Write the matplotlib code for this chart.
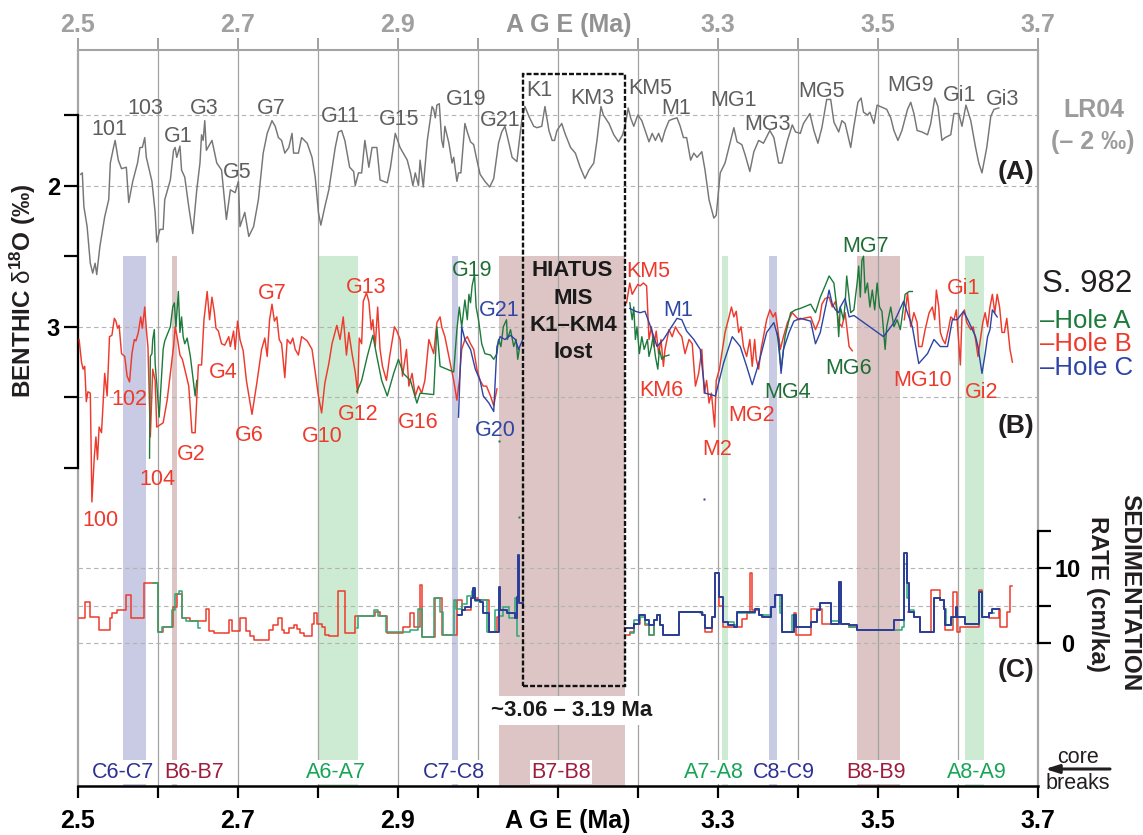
import numpy as np
import matplotlib
matplotlib.use("Agg")
import matplotlib.pyplot as plt
from matplotlib.patches import Rectangle

plt.rcParams['font.family'] = ['Liberation Sans', 'DejaVu Sans']
plt.rcParams['mathtext.fontset'] = 'custom'
plt.rcParams['mathtext.rm'] = 'Liberation Sans'
plt.rcParams['mathtext.bf'] = 'Liberation Sans:bold'
plt.rcParams['mathtext.it'] = 'Liberation Sans:italic'

NAN = float('nan')

# ------------------------------------------------------------------ data
# (A) LR04 stack (plotted minus 2 permil), age in Ma
lr04_age = [2.504, 2.506, 2.508, 2.512, 2.516, 2.519, 2.522, 2.524, 2.528, 2.534,
            2.539, 2.541, 2.545, 2.547, 2.551, 2.555, 2.561, 2.564, 2.569, 2.575,
            2.578, 2.581, 2.584, 2.586, 2.593, 2.597, 2.599, 2.603, 2.607, 2.609,
            2.616, 2.620, 2.622, 2.624, 2.628, 2.630, 2.634, 2.639, 2.644, 2.649,
            2.653, 2.655, 2.657, 2.659, 2.661, 2.668, 2.674, 2.680, 2.686, 2.691,
            2.697, 2.701, 2.703, 2.709, 2.714, 2.720, 2.726, 2.732, 2.737, 2.743,
            2.747, 2.751, 2.755, 2.759, 2.764, 2.768, 2.770, 2.776, 2.780, 2.787,
            2.793, 2.797, 2.801, 2.804, 2.809, 2.814, 2.822, 2.826, 2.830, 2.834,
            2.840, 2.845, 2.847, 2.851, 2.855, 2.859, 2.864, 2.868, 2.874, 2.878,
            2.887, 2.891, 2.897,
            2.903, 2.907, 2.912, 2.916, 2.919, 2.922, 2.926, 2.928, 2.932, 2.937,
            2.943, 2.945, 2.947, 2.949, 2.952, 2.955, 2.957, 2.959, 2.964, 2.968,
            2.970, 2.974, 2.976, 2.979, 2.984, 2.987, 2.991, 2.995, 2.999, 3.003,
            3.009, 3.015, 3.020, 3.026, 3.030, 3.034, 3.039, 3.043, 3.047, 3.049,
            3.051, 3.055, 3.059, 3.064, 3.070, 3.074, 3.080, 3.084, 3.089, 3.093,
            3.096, 3.099, 3.105, 3.109, 3.116, 3.122, 3.128, 3.134, 3.139, 3.145,
            3.149, 3.154, 3.157, 3.164, 3.170, 3.176, 3.181, 3.184, 3.188, 3.191,
            3.195, 3.200, 3.205, 3.214, 3.218, 3.222, 3.226, 3.230, 3.234, 3.239,
            3.243, 3.249, 3.253, 3.257, 3.261, 3.266, 3.270, 3.274, 3.280, 3.284,
            3.289, 3.295, 3.298, 3.303, 3.309, 3.320, 3.324, 3.330, 3.334, 3.340,
            3.345, 3.351, 3.357, 3.365, 3.370, 3.376, 3.380,
            3.387, 3.393, 3.397, 3.403, 3.407, 3.415, 3.420, 3.425, 3.430, 3.436,
            3.441, 3.445, 3.451, 3.455, 3.459, 3.466, 3.470, 3.475, 3.479, 3.482,
            3.487, 3.490, 3.495, 3.499, 3.503, 3.511, 3.516, 3.520, 3.525, 3.530,
            3.537, 3.541, 3.545, 3.549, 3.555, 3.562, 3.566, 3.571, 3.575, 3.580,
            3.584, 3.591, 3.595, 3.601, 3.605, 3.610, 3.616, 3.622, 3.626, 3.630,
            3.636, 3.641, 3.645, 3.651]
lr04_d18o = [1.92, 1.91, 2.15, 2.29, 2.55, 2.62, 2.55, 2.63, 2.43, 2.22,
             2.10, 1.84, 1.73, 1.68, 1.82, 1.88, 1.87, 2.12, 1.97, 1.84,
             1.73, 1.73, 1.66, 1.80, 1.97, 2.19, 2.40, 2.31, 2.31, 2.10,
             1.96, 1.75, 1.73, 1.80, 1.72, 1.89, 1.94, 2.15, 2.34, 2.03,
             1.84, 1.64, 1.68, 1.54, 1.75, 1.68, 1.84, 1.89, 2.24, 2.03,
             2.05, 1.97, 2.29, 2.19, 2.36, 2.29, 2.10, 1.77, 1.63, 1.54,
             1.58, 1.66, 1.68, 1.77, 1.73, 1.63, 1.77, 1.77, 1.66, 1.70,
             1.80, 1.94, 2.19, 2.28, 2.15, 2.03, 1.73, 1.62, 1.61, 1.68,
             1.87, 1.90, 2.00, 1.91, 1.91, 1.68, 1.87, 1.73, 1.73, 1.96,
             1.98, 1.87, 1.63,
             1.73, 1.77, 1.82, 1.91, 2.00, 1.91, 2.00, 1.82, 2.01, 1.68,
             1.44, 1.46, 1.52, 1.43, 1.42, 1.68, 1.73, 1.58, 1.70, 1.84,
             1.80, 1.97, 1.91, 1.91, 1.56, 1.62, 1.69, 1.71, 1.82, 1.92,
             1.97, 2.01, 1.95, 1.70, 1.62, 1.58, 1.70, 1.80, 1.82, 1.83,
             1.73, 1.54, 1.44, 1.51, 1.58, 1.59, 1.58, 1.44, 1.61, 1.68,
             1.68, 1.61, 1.56, 1.63, 1.73, 1.77, 1.87, 1.95, 1.89, 1.84,
             1.68, 1.44, 1.50, 1.56, 1.64, 1.69, 1.64, 1.58, 1.45, 1.52,
             1.58, 1.50, 1.54, 1.69, 1.63, 1.68, 1.63, 1.69, 1.61, 1.54,
             1.53, 1.52, 1.58, 1.66, 1.66, 1.82, 1.77, 1.80, 1.76, 1.89,
             2.10, 2.23, 2.21, 1.91, 1.84, 1.59, 1.69, 1.71, 1.78, 1.90,
             1.76, 1.68, 1.70, 1.61, 1.66, 1.84, 1.84,
             1.68, 1.57, 1.62, 1.63, 1.56, 1.49, 1.61, 1.70, 1.59, 1.39,
             1.39, 1.55, 1.62, 1.54, 1.56, 1.73, 1.58, 1.41, 1.38, 1.48,
             1.50, 1.48, 1.56, 1.43, 1.44, 1.46, 1.52, 1.61, 1.68, 1.61,
             1.46, 1.41, 1.49, 1.61, 1.62, 1.64, 1.56, 1.38, 1.44, 1.68,
             1.66, 1.64, 1.49, 1.49, 1.58, 1.43, 1.54, 1.73, 1.84, 1.91,
             1.73, 1.51, 1.46, 1.45]

# (B) Site 982 benthic d18O, Hole B (NaN = gap)
holeB_age = [2.502, 2.505, 2.507, 2.509, 2.511, 2.513, 2.516, 2.518, 2.521, 2.523,
             2.525, 2.527, 2.530, 2.534, 2.537, 2.540, 2.543, 2.546, 2.548, 2.550,
             2.552, 2.555, 2.559, 2.562, 2.565, 2.568, 2.571, 2.573, 2.576, 2.579,
             2.581, 2.584, 2.586, 2.588, 2.591, 2.594, 2.597, 2.599, 2.607, 2.612,
             2.616, 2.620, 2.622, 2.625, 2.628, 2.631, 2.634, 2.639, 2.643, 2.647,
             2.651, 2.655, 2.658, 2.662, 2.665, 2.668, 2.671, 2.673, 2.676, 2.680,
             2.684, 2.689, 2.691, 2.695, 2.697, 2.700, 2.703, 2.707, 2.711, 2.718,
             2.724, 2.730, 2.734, 2.737, 2.740, 2.743, 2.746, 2.749, 2.752, 2.755,
             2.759, 2.762, 2.766, 2.769, 2.772, 2.776, 2.780, 2.787, 2.793, 2.797,
             2.801, 2.805, 2.809, 2.814, 2.818, 2.824, 2.828, 2.832, 2.836, 2.839,
             2.843, 2.847, 2.850, 2.852, 2.855, 2.857, 2.861, 2.864, 2.867, 2.869,
             2.872, 2.875, 2.878, 2.881, 2.886, 2.890, 2.896, 2.899, 2.903, 2.906,
             2.911, 2.914, 2.918, 2.922, 2.926, 2.930, 2.934, 2.939, 2.945, 2.949,
             2.953, 2.955, 2.959, 2.964, 2.970, 2.974, 2.977, 2.980, 2.984, 2.987,
             2.991, 2.995, 2.999, 3.003, 3.007, 3.011, 3.016, 3.020, 3.024,
             NAN,
             3.186, 3.190, 3.193, 3.197, 3.200, 3.203, 3.207, 3.211, 3.214, 3.217,
             3.220, 3.223, 3.226, 3.229, 3.232, 3.234, 3.239, 3.243, 3.247, 3.251,
             3.255, 3.259, 3.264, 3.268, 3.272, 3.276, 3.280, 3.283, 3.286, 3.289,
             3.292, 3.294, 3.296, 3.298, 3.302, 3.305, 3.309, 3.314, 3.317, 3.320,
             3.323, 3.326, 3.329, 3.332, 3.336, 3.340, 3.343, 3.346, 3.348, 3.351,
             3.354, 3.357, 3.361, 3.365, 3.369, 3.372, 3.375, 3.378, 3.382, 3.387,
             3.393, 3.401, 3.407, 3.416, 3.422, 3.427, 3.430, 3.434, 3.439, 3.443,
             3.447, 3.451, 3.455, 3.459, 3.464, 3.468,
             NAN,
             3.533, 3.537, 3.541, 3.545, 3.549, 3.551, 3.555, 3.559, 3.564, 3.568,
             3.571, 3.573, 3.576, 3.578, 3.581, 3.584, 3.588, 3.591, 3.595, 3.598,
             3.601, 3.603, 3.605, 3.608, 3.611, 3.616, 3.619, 3.622, 3.625, 3.628,
             3.631, 3.634, 3.637, 3.640, 3.643, 3.646, 3.649, 3.652, 3.655, 3.658,
             3.661, 3.665, 3.668]
holeB_d18o = [3.09, 3.25, 3.30, 3.28, 3.53, 3.46, 3.47, 4.24, 3.92, 3.78,
              3.94, 3.71, 3.75, 3.33, 3.49, 3.07, 3.06, 2.94, 2.96, 3.01,
              2.99, 3.19, 3.21, 3.35, 3.39, 3.19, 3.09, 3.10, 3.04, 2.93,
              3.01, 2.86, 3.02, 3.14, 3.78, 3.30, 3.38, 3.71, 3.68, 3.52,
              3.33, 3.14, 3.00, 3.09, 3.20, 3.23, 3.30, 3.42, 3.75, 3.75,
              3.27, 3.27, 2.95, 2.75, 2.95, 2.79, 2.90, 3.01, 3.03, 3.12,
              3.13, 3.07, 3.14, 3.03, 3.16, 2.96, 3.09, 3.17, 3.38, 3.62,
              3.40, 3.16, 3.08, 3.21, 2.95, 2.84, 2.96, 2.93, 3.09, 3.12,
              3.36, 3.09, 3.12, 3.08, 3.16, 3.20, 3.07, 3.10, 3.16, 3.32,
              3.49, 3.61, 3.40, 3.26, 3.12, 2.99, 3.09, 2.93, 3.20, 3.04,
              3.19, 3.32, 3.47, 3.08, 3.12, 2.82, 2.76, 2.82, 3.02, 2.95,
              3.14, 2.86, 3.16, 3.28, 3.38, 3.21, 3.00, 3.03, 3.09, 3.35,
              3.16, 3.42, 3.33, 3.49, 3.42, 3.47, 3.38, 3.09, 3.19, 2.97,
              2.93, 3.00, 3.07, 3.21, 3.38, 3.52, 3.38, 3.16, 3.09, 3.07,
              3.12, 3.16, 3.30, 3.38, 3.42, 3.42, 3.49, 3.56, 3.44,
              NAN,
              2.83, 2.69, 2.77, 2.73, 2.70, 2.71, 2.69, 2.71, 3.09, 3.00,
              3.14, 3.03, 3.19, 3.09, 3.28, 3.16, 3.02, 3.07, 3.00, 3.04,
              3.07, 3.19, 3.09, 3.12, 3.42, 3.33, 3.16, 3.47, 3.38, 3.54,
              3.47, 3.59, 3.71, 3.38, 3.30, 3.19, 3.04, 2.93, 2.86, 2.93,
              2.89, 3.04, 3.00, 3.14, 3.21, 3.09, 3.28, 3.09, 3.23, 3.30,
              3.16, 3.07, 2.95, 2.88, 2.93, 2.90, 3.02, 3.16, 3.07, 2.97,
              2.90, 2.95, 2.94, 2.93, 3.02, 2.95, 2.84, 2.80, 2.79, 2.86,
              2.82, 2.97, 3.00, 2.90, 3.14, 3.17,
              NAN,
              2.95, 2.76, 3.00, 2.90, 2.97, 3.14, 3.14, 3.02, 2.90, 2.86,
              2.95, 2.74, 2.86, 3.04, 3.09, 3.12, 3.02, 2.93, 2.95, 2.88,
              3.12, 3.27, 2.93, 2.88, 2.97, 3.02, 3.00, 3.09, 3.21, 3.09,
              2.97, 2.90, 3.00, 2.86, 2.77, 2.90, 2.77, 2.86, 3.04, 3.04,
              2.94, 3.16, 3.25]

# Hole A
holeA_age = [2.590, 2.591, 2.593, 2.594, 2.596, 2.597, 2.599, 2.602, 2.607, 2.609,
             2.616, 2.619, 2.621, 2.623, 2.626, 2.628, 2.630, 2.632, 2.634, 2.637,
             2.641, 2.645, 2.647, 2.649,
             NAN,
             2.849, 2.855, 2.862, 2.869, 2.874, 2.880, 2.887, 2.895, 2.901, 2.907,
             2.916, 2.924, 2.928, 2.945, 2.949, 2.953, 2.970, 2.974, 2.977, 2.980,
             2.984, 2.987, 2.989, 2.991, 2.993, 2.996, 2.998, 3.001, 3.005, 3.009,
             3.016, 3.020, 3.024, 3.026, 3.029, 3.032, 3.036, 3.037, 3.041, 3.045,
             3.048, 3.050, 3.052,
             NAN,
             3.190, 3.193, 3.195, 3.197, 3.199, 3.202, 3.205, 3.208, 3.212, 3.214,
             3.217, 3.219, 3.222, 3.225, 3.227, 3.230, 3.233, 3.239,
             NAN,
             3.374, 3.379, 3.384, 3.391, 3.397, 3.403, 3.416, 3.422, 3.428, 3.434,
             3.439, 3.445, 3.449, 3.451, 3.453, 3.457, 3.459, 3.461, 3.466, 3.470,
             3.474, 3.476, 3.478, 3.480, 3.482, 3.484, 3.487, 3.490, 3.493, 3.496,
             3.499, 3.502, 3.505, 3.509, 3.511, 3.516, 3.520, 3.524, 3.528, 3.534,
             3.539, 3.543]
holeA_d18o = [3.93, 3.21, 3.19, 3.09, 3.02, 3.26, 3.40, 3.64, 3.16, 3.10,
              3.00, 2.86, 2.83, 3.00, 2.75, 3.04, 2.93, 3.07, 3.12, 3.08,
              3.21, 3.40, 3.49, 3.38,
              NAN,
              3.46, 3.38, 3.21, 3.06, 3.21, 3.38, 3.49, 3.33, 3.23, 3.33,
              3.38, 3.54, 3.47, 3.48, 3.00, 3.28, 3.32, 3.02, 2.86, 3.00,
              2.81, 2.95, 2.77, 2.83, 2.71, 2.63, 2.86, 2.95, 3.12, 3.19,
              3.20, 3.23, 3.19, 3.09, 3.14, 3.00, 2.95, 3.09, 3.02, 3.14,
              3.09, 3.23, 3.16,
              NAN,
              2.83, 2.95, 2.86, 3.09, 3.00, 3.19, 3.07, 3.16, 3.09, 3.21,
              3.14, 3.07, 3.21, 3.30, 3.16, 3.23, 3.21, 3.20,
              NAN,
              3.04, 3.30, 3.07, 2.90, 2.88, 2.87, 2.84, 2.90, 2.79, 2.71,
              2.64, 2.69, 2.88, 3.07, 2.86, 2.95, 2.84, 2.64, 2.90, 2.88,
              2.69, 2.57, 2.79, 2.53, 2.50, 2.76, 2.69, 2.86, 2.74, 2.88,
              2.69, 2.86, 2.89, 3.16, 3.00, 2.86, 3.00, 2.95, 3.02, 2.77,
              2.75, 2.75]

# Hole C
holeC_age = [2.976, 2.980, 2.984, 2.991, 2.997, 3.003, 3.007, 3.014, 3.020, 3.024,
             3.028, 3.034, 3.041, 3.047, 3.051, 3.057,
             NAN,
             3.190, 3.197, 3.203, 3.209, 3.216, 3.224, 3.232, 3.241, 3.249, 3.255,
             3.261, 3.270, 3.278, 3.284, 3.291, 3.297, 3.307, 3.318, 3.328, 3.336,
             3.343, 3.351, 3.361, 3.370, 3.376, 3.379, 3.382, 3.389, 3.395, 3.403,
             3.416, 3.422, 3.428, 3.432, 3.439, 3.443, 3.447, 3.451, 3.453, 3.459,
             3.464, 3.470, 3.507, 3.520, 3.532, 3.543, 3.551, 3.562, 3.570, 3.578,
             3.587, 3.593, 3.599, 3.607, 3.614, 3.622, 3.625, 3.630, 3.634, 3.637,
             3.640, 3.643, 3.649]
holeC_d18o = [3.64, 3.00, 3.09, 3.16, 3.30, 3.38, 3.49, 3.54, 3.60, 3.14,
              3.07, 3.09, 3.06, 3.09, 3.16, 3.08,
              NAN,
              2.87, 2.89, 2.90, 2.89, 3.00, 3.14, 3.09, 3.01, 2.94, 2.95,
              3.03, 3.09, 3.16, 3.47, 3.48, 3.49, 3.26, 3.07, 3.14, 3.28,
              3.41, 3.26, 3.04, 2.97, 3.09, 3.33, 3.16, 3.04, 2.96, 2.94,
              2.96, 3.12, 3.04, 2.93, 2.74, 2.84, 2.88, 2.90, 2.86, 2.80,
              2.93, 2.92, 3.07, 2.97, 2.82, 3.00, 3.26, 3.19, 3.09, 3.14,
              3.14, 2.95, 2.95, 2.89, 2.97, 3.07, 3.14, 3.33, 3.19, 3.07,
              3.02, 2.88, 2.93]

# isolated single samples
stray_age = [3.027, 3.051, 3.283]
stray_d18o = [3.81, 4.35, 4.22]
stray_hole = ['A', 'A', 'C']

# (C) sedimentation rates (cm/ka), step starts; last entry closes the segment
sedB_age = [[2.502, 2.509, 2.516, 2.527, 2.540, 2.543, 2.549, 2.561, 2.567, 2.583,
             2.601, 2.607, 2.619, 2.624, 2.631, 2.641, 2.661, 2.664, 2.670, 2.689,
             2.693, 2.703, 2.711, 2.715, 2.721, 2.739, 2.744, 2.751, 2.755, 2.758,
             2.764, 2.770, 2.774, 2.778, 2.783, 2.793, 2.795, 2.799, 2.805, 2.809,
             2.814, 2.826, 2.834, 2.847, 2.872, 2.878, 2.887, 2.907, 2.916, 2.920,
             2.928, 2.931, 2.947, 2.955, 2.974, 2.980, 2.991, 3.000, 3.014, 3.024, 3.027],
            [3.186, 3.190, 3.195, 3.203, 3.209, 3.214, 3.220, 3.224, 3.228, 3.232,
             3.251, 3.280, 3.284, 3.293, 3.297, 3.301, 3.307, 3.320, 3.330, 3.337,
             3.340, 3.343, 3.352, 3.357, 3.366, 3.372, 3.380, 3.395, 3.398, 3.416,
             3.430, 3.452, 3.454, 3.464, 3.474],
            [3.537, 3.545, 3.553, 3.566, 3.577, 3.582, 3.584, 3.594, 3.599, 3.603,
             3.626, 3.630, 3.639, 3.651, 3.652, 3.661, 3.665, 3.668]]
sedB_rate = [[3.4, 5.5, 3.5, 1.8, 3.4, 4.0, 4.4, 6.4, 3.4, 8.0,
              1.5, 2.2, 4.8, 6.6, 3.4, 3.0, 4.6, 1.6, 1.4, 3.1,
              1.6, 3.4, 1.6, 1.0, 0.4, 1.7, 2.4, 3.3, 1.7, 1.4,
              2.0, 2.4, 1.9, 1.4, 0.9, 2.5, 4.0, 2.5, 2.2, 1.1,
              0.9, 7.0, 1.3, 3.6, 4.2, 3.6, 1.4, 2.2, 4.0, 2.2,
              7.7, 0.8, 6.0, 1.1, 5.7, 4.4, 6.0, 5.7, 1.5, 3.5, 3.5],
             [1.1, 1.5, 2.6, 3.7, 2.4, 1.1, 3.1, 3.7, 2.4, 1.1,
              4.2, 3.7, 1.5, 3.5, 9.3, 5.0, 2.2, 2.2, 3.2, 4.0,
              9.3, 4.4, 3.7, 3.5, 4.8, 6.4, 1.5, 4.0, 1.1, 4.6,
              2.6, 8.2, 2.6, 2.2, 2.2],
             [4.2, 3.5, 1.5, 7.1, 5.7, 4.6, 1.7, 6.8, 1.5, 2.2,
              7.1, 3.5, 3.3, 4.6, 2.2, 4.2, 7.6, 7.6]]

sedA_age = [[2.594, 2.601, 2.605, 2.618, 2.622, 2.627, 2.630, 2.636, 2.650, 2.653],
            [2.849, 2.851, 2.871, 2.876, 2.886, 2.916, 2.925, 2.931, 2.945, 2.953,
             2.957, 2.970, 2.973, 2.980, 2.986, 2.993, 2.997, 3.003, 3.012, 3.022,
             3.026, 3.032, 3.039, 3.046, 3.049, 3.052],
            [3.190, 3.195, 3.203, 3.209, 3.214, 3.220, 3.224, 3.228, 3.232, 3.251,
             3.278, 3.282],
            [3.313, 3.320, 3.324, 3.347, 3.351, 3.366, 3.372, 3.378, 3.380, 3.393,
             3.398, 3.416, 3.424, 3.428, 3.441, 3.452, 3.454, 3.464, 3.474, 3.511,
             3.530, 3.533, 3.536, 3.539, 3.545, 3.553, 3.570, 3.578, 3.583, 3.585,
             3.592, 3.609, 3.626, 3.630, 3.639, 3.645]]
sedA_rate = [[8.0, 1.5, 2.2, 4.4, 6.6, 7.0, 3.4, 3.0, 2.0, 2.0],
             [2.0, 3.6, 4.4, 3.6, 1.5, 1.8, 4.6, 0.8, 6.0, 4.2,
              1.1, 5.8, 4.6, 5.2, 6.3, 7.0, 5.6, 5.7, 1.5, 4.4,
              3.6, 4.8, 3.3, 6.0, 1.0, 1.0],
             [1.3, 3.1, 3.5, 2.6, 1.1, 3.1, 3.7, 2.4, 1.1, 4.2, 4.0, 4.0],
             [2.8, 2.4, 4.0, 4.6, 3.7, 4.8, 6.4, 4.0, 1.5, 3.7,
              2.2, 2.8, 4.4, 5.3, 3.0, 7.0, 2.6, 2.2, 1.8, 1.8,
              2.2, 10.6, 6.0, 4.4, 3.5, 1.5, 6.0, 5.7, 4.6, 2.4,
              3.5, 2.6, 6.8, 3.5, 4.0, 4.0]]

sedC_age = [[2.976, 2.980, 2.984, 2.991, 2.994, 2.997, 3.003, 3.007, 3.014, 3.026,
             3.028, 3.037, 3.047, 3.049, 3.050, 3.052, 3.057],
            [3.186, 3.195, 3.201, 3.209, 3.214, 3.220, 3.224, 3.228, 3.232, 3.251,
             3.280, 3.284, 3.293, 3.297, 3.301, 3.307, 3.313, 3.320, 3.324, 3.347,
             3.351, 3.355, 3.366, 3.372, 3.380, 3.395, 3.398, 3.416, 3.424, 3.428,
             3.441, 3.452, 3.454, 3.464, 3.474, 3.520, 3.533, 3.536, 3.539, 3.545,
             3.553, 3.570, 3.577, 3.582, 3.584, 3.591, 3.597, 3.599, 3.609, 3.626,
             3.630, 3.639, 3.643, 3.651]]
sedC_rate = [[3.7, 4.4, 4.8, 6.0, 7.3, 5.7, 5.5, 4.0, 1.5, 7.5,
              4.4, 4.0, 3.3, 6.2, 11.7, 5.3, 5.3],
             [2.0, 2.6, 3.7, 3.1, 2.4, 3.1, 3.7, 2.4, 1.1, 4.2,
              3.7, 2.0, 3.5, 9.3, 6.2, 2.8, 2.4, 2.2, 4.2, 4.6,
              3.7, 3.5, 4.8, 6.4, 1.5, 3.7, 2.2, 2.8, 4.4, 5.3,
              2.6, 8.2, 2.6, 2.4, 1.8, 3.1, 12.0, 8.0, 4.2, 3.5,
              1.5, 6.0, 5.7, 4.6, 2.4, 3.5, 4.8, 3.5, 2.6, 6.8,
              3.5, 4.0, 4.6, 4.6]]

# core breaks (age ranges)
break_label = ['C6-C7', 'B6-B7', 'A6-A7', 'C7-C8', 'B7-B8', 'A7-A8', 'C8-C9', 'B8-B9', 'A8-A9']
break_start = [2.557, 2.618, 2.802, 2.968, 3.027, 3.305, 3.364, 3.474, 3.609]
break_end = [2.586, 2.624, 2.850, 2.976, 3.184, 3.313, 3.374, 3.527, 3.633]

hiatus_range = (3.057, 3.184)

# ------------------------------------------------------------------ style
RED = '#ee3a2c'
GREEN_B = '#1c7a3a'
BLUE_B = '#2c44a6'
GREEN_C = '#2aa874'
BLUE_C = '#2b3d98'
GRAY_LINE = '#767676'
LBL_GRAY = '#5e5e5e'
LBL_GREEN = '#1f6e36'
LBL_BLUE = '#2f47a3'
BAND_COL = {'C': '#c9cae3', 'B': '#dcc5c4', 'A': '#cdebd2'}
BAND_TXT = {'C': '#2e3192', 'B': '#9e1d3c', 'A': '#17a457'}
HOLE_COL_B = {'A': GREEN_B, 'B': RED, 'C': BLUE_B}

W, H = 1143, 835
fig = plt.figure(figsize=(W / 100, H / 100), dpi=100)
L, R, T, B = 77.5, 1038.0, 50.0, 786.0
ax = fig.add_axes([L / W, 1 - B / H, (R - L) / W, (B - T) / H])
ax.set_xlim(2.5, 3.7)
PXD = 141.2
ax.set_ylim(1.5 + (B - 115) / PXD, 1.5 - (115 - T) / PXD)
ax.patch.set_alpha(0)

axs = ax.twinx()
PXS = 7.5
axs.set_ylim(-(B - 643) / PXS, (643 - T) / PXS)


def yfrac(py):
    return (B - py) / (B - T)


# vertical grid + frame
for xv in np.arange(2.6, 3.65, 0.1):
    ax.axvline(xv, color='#a2a2a2', lw=0.9, zorder=1.2)
for xv in (2.5, 3.7):
    ax.axvline(xv, color='#a6a6a6', lw=1.6, zorder=1.2, clip_on=False)

# core-break bands
y0, y1 = ax.get_ylim()
band_top = (y0 - 2.5) / (y0 - y1)
for lab, s, e in zip(break_label, break_start, break_end):
    ax.axvspan(s, e, ymin=0, ymax=band_top, color=BAND_COL[lab[0]], lw=0, zorder=0.5)

# dashed horizontal guides
dash = (0, (4, 3))
for v in (1.5, 2.0, 3.0, 3.5):
    ax.axhline(v, color='#b3b3b3', lw=0.8, ls=dash, zorder=1)
for v in (0, 5, 10):
    axs.axhline(v, color='#b3b3b3', lw=0.8, ls=dash, zorder=1)

# (A) LR04
ax.plot(lr04_age, lr04_d18o, color=GRAY_LINE, lw=1.05, zorder=3)
# (B) holes
ax.plot(holeB_age, holeB_d18o, color=RED, lw=1.05, zorder=3)
ax.plot(holeA_age, holeA_d18o, color=GREEN_B, lw=1.0, zorder=3.1)
ax.plot(holeC_age, holeC_d18o, color=BLUE_B, lw=1.0, zorder=3.2)
for a, v, h in zip(stray_age, stray_d18o, stray_hole):
    ax.plot([a], [v], 's', ms=1.6, color=HOLE_COL_B[h], mec='none', zorder=3)

# (C) sedimentation rates
for ages, rates in zip(sedB_age, sedB_rate):
    axs.step(ages, rates, where='post', color=RED, lw=1.1, zorder=3)
for ages, rates in zip(sedA_age, sedA_rate):
    axs.step(ages, rates, where='post', color=GREEN_C, lw=1.1, zorder=3.1)
for ages, rates in zip(sedC_age, sedC_rate):
    axs.step(ages, rates, where='post', color=BLUE_C, lw=1.4, zorder=3.2)

# hiatus dashed box
axs.add_patch(Rectangle((hiatus_range[0], yfrac(686)), hiatus_range[1] - hiatus_range[0],
                        yfrac(74) - yfrac(686), transform=axs.get_xaxis_transform(),
                        fill=False, ec='#111111', lw=1.7, ls=(0, (2.1, 0.9)), zorder=6))

# ---- axes styling
xt = np.round(np.arange(2.5, 3.71, 0.1), 1)
xl = ['2.5', '', '2.7', '', '2.9', '', '', '', '3.3', '', '3.5', '', '3.7']
ax.set_xticks(xt)
ax.set_xticklabels(xl, fontweight='bold', fontsize=18)
ax.tick_params(axis='x', direction='out', length=8.8, width=1.6, color='black', pad=8)
for sp in ('top', 'right'):
    ax.spines[sp].set_visible(False)
ax.spines['bottom'].set_linewidth(1.8)
ax.spines['left'].set_bounds(1.5, 4.0)
ax.spines['left'].set_linewidth(1.6)
ax.set_yticks([1.5, 2.0, 2.5, 3.0, 3.5, 4.0])
ax.set_yticklabels(['', '2', '', '3', '', ''], fontweight='bold', fontsize=17)
ax.tick_params(axis='y', direction='out', length=10, width=1.6, pad=2.5)

sec = ax.secondary_xaxis('top')
sec.set_xticks(xt)
sec.set_xticklabels(xl, fontweight='bold', fontsize=18, color='#929292')
sec.tick_params(direction='out', length=8.8, width=1.4, colors='#a0a0a0', pad=0.5)
for sp in sec.spines.values():
    sp.set_color('#a3a3a3')
    sp.set_linewidth(1.5)

for sp in ('top', 'bottom', 'left'):
    axs.spines[sp].set_visible(False)
axs.spines['right'].set_bounds(0, 15)
axs.spines['right'].set_linewidth(1.6)
axs.set_yticks([0, 5, 10, 15])
axs.set_yticklabels(['0', '', '10', ''], fontweight='bold', fontsize=17)
axs.tick_params(axis='y', direction='out', length=9.6, width=1.6, pad=11.5)
for t in axs.get_yticklabels():
    t.set_horizontalalignment('center')


# ---- text helpers (pixel positions: x, visual centre of capitals y)
def ptext(x, y, s, size=15.5, color='black', weight='normal', ha='center', base=False, **kw):
    yb = y if base else y + 0.36 * size * 100 / 72
    return fig.text(x / W, 1 - yb / H, s, size=size, color=color, fontweight=weight,
                    ha=ha, va='baseline', **kw)


ptext(569, 23, 'A G E (Ma)', 18, '#929292', 'bold')
ptext(568, 819, 'A G E (Ma)', 18, 'black', 'bold')

lr04_labels = [("101", 109, 127), ("103", 145, 106), ("G1", 178, 134), ("G3", 204, 106),
               ("G5", 237, 170), ("G7", 271, 106), ("G11", 340, 114), ("G15", 399, 117),
               ("G19", 466, 97), ("G21", 500, 118), ("K1", 539, 88), ("KM3", 592, 96),
               ("KM5", 650, 86), ("M1", 676, 106), ("MG1", 733, 98), ("MG3", 767, 122),
               ("MG5", 822, 89), ("MG9", 910, 83), ("Gi1", 960, 93), ("Gi3", 1003, 97)]
for s, x, y in lr04_labels:
    ptext(x, y, s, 15.5, LBL_GRAY)

red_labels = [("100", 100, 518), ("102", 129, 397), ("104", 157, 477), ("G2", 191, 452),
              ("G4", 223, 370), ("G6", 249, 433), ("G7", 272, 291), ("G10", 322, 434),
              ("G12", 358, 412), ("G13", 366, 285), ("G16", 418, 420), ("KM5", 648, 269),
              ("KM6", 661, 388), ("M2", 717, 447), ("MG2", 752, 413), ("MG10", 923, 378),
              ("Gi1", 964, 286), ("Gi2", 982, 390)]
for s, x, y in red_labels:
    ptext(x, y, s, 15.5, RED)
for s, x, y in [("G19", 472, 268), ("MG4", 788, 390), ("MG6", 849, 366), ("MG7", 866, 244)]:
    ptext(x, y, s, 15.5, LBL_GREEN)
for s, x, y in [("G21", 499, 308), ("G20", 495, 428), ("M1", 678, 308)]:
    ptext(x, y, s, 15.5, LBL_BLUE)

# hiatus annotation
ptext(572, 268, 'HIATUS', 16, '#1a1a1a', 'bold')
ptext(573, 296, 'MIS', 16, '#1a1a1a', 'bold')
ptext(573, 323, 'K1\u2013KM4', 16, '#1a1a1a', 'bold')
ptext(573, 350, 'lost', 16, '#1a1a1a', 'bold')
ptext(572, 708, '~3.06 \u2013 3.19 Ma', 16, '#1a1a1a', 'bold',
      bbox=dict(facecolor='white', edgecolor='none', pad=2.5))

# core-break labels
label_x = [123, 194, 336, 454, 561, 714, 784, 876, 977]
for lab, x in zip(break_label, label_x):
    ptext(x, 770, lab, 15.5, BAND_TXT[lab[0]],
          bbox=dict(facecolor='white', edgecolor='none', pad=1.0))

# right-side annotations
ptext(1094, 108, 'LR04', 18, '#9b9b9b', 'bold')
ptext(1093, 140, '(\u2013 2 \u2030)', 18, '#9b9b9b', 'bold')
ptext(1016, 170, '(A)', 19, '#231f20', 'bold')
ptext(1016, 423, '(B)', 19, '#231f20', 'bold')
ptext(1016, 668, '(C)', 19, '#231f20', 'bold')
ptext(1087, 281, 'S. 982', 22.5, '#231f20')
ptext(1040, 319, '\u2013Hole A', 18.5, GREEN_B, ha='left')
ptext(1040, 342, '\u2013Hole B', 18.5, RED, ha='left')
ptext(1040, 366, '\u2013Hole C', 18.5, BLUE_B, ha='left')

fig.text(23 / W, 1 - 291 / H, r'BENTHIC $\mathrm{\delta}^{\mathbf{18}}$O (‰)', rotation=90,
         ha='center', va='center', fontsize=17.5, fontweight='bold', color='#231f20')
fig.text(1130 / W, 1 - 593 / H, 'SEDIMENTATION', rotation=-90, ha='center', va='center',
         fontsize=17.5, fontweight='bold', color='#231f20')
fig.text(1098 / W, 1 - 594 / H, 'RATE (cm/ka)', rotation=-90, ha='center', va='center',
         fontsize=17.5, fontweight='bold', color='#231f20')

# core breaks arrow
ptext(1078, 763, 'core', 15.5, '#231f20', base=True)
ptext(1078, 789, 'breaks', 15.5, '#231f20', base=True)
ax.annotate('', xy=(1045 / W, 1 - 769 / H), xytext=(1110 / W, 1 - 769 / H),
            xycoords='figure fraction', textcoords='figure fraction', annotation_clip=False,
            arrowprops=dict(arrowstyle='-|>,head_length=0.8,head_width=0.25', lw=2.2,
                            color='#231f20', shrinkA=0, shrinkB=0))

fig.savefig('out.png', dpi=100)
